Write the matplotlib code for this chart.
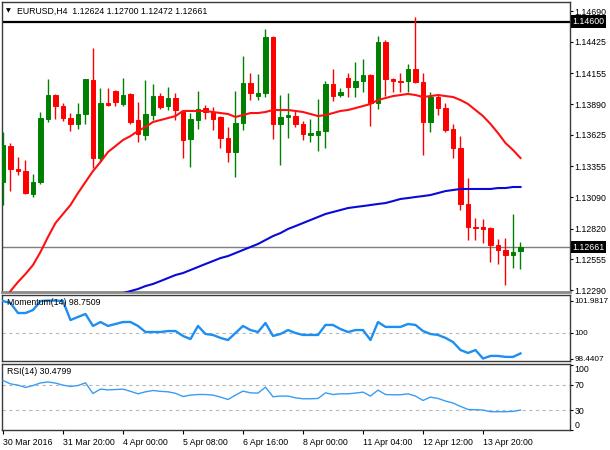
import matplotlib
matplotlib.use("Agg")
import matplotlib.pyplot as plt
import matplotlib.transforms as mtransforms
import numpy as np

plt.rcParams['font.family'] = ['Liberation Sans', 'DejaVu Sans']

# ---------------- data (EURUSD H4) ----------------
opens = [1.13220, 1.13529, 1.13332, 1.13314, 1.13117, 1.13220, 1.13762, 1.13968, 1.13873, 1.13770,
         1.13719, 1.13805, 1.14097, 1.13426, 1.13899, 1.14002, 1.13891, 1.13977, 1.13753, 1.13624,
         1.13796, 1.13959, 1.13873, 1.13942, 1.13831, 1.13590, 1.13753, 1.13856, 1.13822, 1.13779,
         1.13598, 1.13478, 1.13727, 1.14071, 1.13959, 1.13985, 1.14467, 1.13719, 1.13779, 1.13787,
         1.13719, 1.13624, 1.13624, 1.13659, 1.14063, 1.13968, 1.14114, 1.14037, 1.14088, 1.14140,
         1.13899, 1.14424, 1.14106, 1.14088, 1.14088, 1.14192, 1.14080, 1.13736, 1.13951, 1.13856,
         1.13676, 1.13512, 1.13031, 1.12833, 1.12833, 1.12824, 1.12678, 1.12635, 1.12592, 1.12624]
highs = [1.13650, 1.13555, 1.13435, 1.13409, 1.13289, 1.13822, 1.14106, 1.13977, 1.13899, 1.13813,
         1.13899, 1.14110, 1.14372, 1.14028, 1.14028, 1.14010, 1.14114, 1.13985, 1.13908, 1.14097,
         1.14063, 1.13985, 1.14037, 1.13985, 1.13839, 1.13813, 1.14002, 1.13882, 1.13865, 1.13787,
         1.13693, 1.14002, 1.14303, 1.14157, 1.14149, 1.14536, 1.14475, 1.13968, 1.13985, 1.13839,
         1.13744, 1.13762, 1.13934, 1.14088, 1.14192, 1.14028, 1.14157, 1.14252, 1.14278, 1.14149,
         1.14475, 1.14441, 1.14114, 1.14157, 1.14235, 1.14639, 1.14157, 1.13994, 1.13968, 1.13899,
         1.13719, 1.13615, 1.13254, 1.12910, 1.12902, 1.12833, 1.12730, 1.12738, 1.12945, 1.12700]
lows = [1.13022, 1.13142, 1.13280, 1.13120, 1.13091, 1.13203, 1.13736, 1.13762, 1.13744, 1.13659,
        1.13676, 1.13719, 1.13340, 1.13392, 1.13873, 1.13873, 1.13873, 1.13719, 1.13564, 1.13581,
        1.13753, 1.13848, 1.13839, 1.13753, 1.13426, 1.13349, 1.13676, 1.13762, 1.13667, 1.13512,
        1.13392, 1.13263, 1.13667, 1.13925, 1.13925, 1.13951, 1.13590, 1.13366, 1.13598, 1.13693,
        1.13581, 1.13564, 1.13486, 1.13512, 1.13916, 1.13951, 1.13951, 1.13951, 1.13994, 1.13701,
        1.13848, 1.13959, 1.13994, 1.13994, 1.13994, 1.14071, 1.13452, 1.13650, 1.13796, 1.13650,
        1.13426, 1.12979, 1.12721, 1.12721, 1.12695, 1.12532, 1.12515, 1.12334, 1.12480, 1.12472]
closes = [1.13538, 1.13332, 1.13314, 1.13125, 1.13220, 1.13770, 1.13968, 1.13873, 1.13770, 1.13719,
          1.13805, 1.14106, 1.13426, 1.13899, 1.13882, 1.13908, 1.13968, 1.13736, 1.13633, 1.13805,
          1.13959, 1.13865, 1.13942, 1.13839, 1.13581, 1.13762, 1.13848, 1.13822, 1.13762, 1.13598,
          1.13478, 1.13727, 1.14071, 1.13985, 1.13985, 1.14467, 1.13719, 1.13779, 1.13796, 1.13719,
          1.13633, 1.13641, 1.13659, 1.14063, 1.13959, 1.13994, 1.14037, 1.14088, 1.14140, 1.13899,
          1.14424, 1.14106, 1.14088, 1.14080, 1.14192, 1.14080, 1.13736, 1.13951, 1.13856, 1.13667,
          1.13512, 1.13031, 1.12833, 1.12824, 1.12816, 1.12678, 1.12635, 1.12592, 1.12618, 1.12661]

ma_fast = [1.12162, 1.12282, 1.12360, 1.12429, 1.12506, 1.12618, 1.12747, 1.12867, 1.12945, 1.13022,
           1.13125, 1.13220, 1.13314, 1.13392, 1.13478, 1.13529, 1.13581, 1.13615, 1.13659, 1.13693,
           1.13736, 1.13753, 1.13770, 1.13787, 1.13831, 1.13831, 1.13831, 1.13831, 1.13822, 1.13813,
           1.13805, 1.13779, 1.13796, 1.13813, 1.13813, 1.13822, 1.13839, 1.13839, 1.13839, 1.13831,
           1.13822, 1.13805, 1.13787, 1.13796, 1.13813, 1.13831, 1.13839, 1.13856, 1.13873, 1.13891,
           1.13925, 1.13942, 1.13959, 1.13968, 1.13977, 1.13968, 1.13951, 1.13959, 1.13968, 1.13959,
           1.13951, 1.13925, 1.13891, 1.13839, 1.13787, 1.13719, 1.13641, 1.13555, 1.13495, 1.13426]
ma_slow = [np.nan] * 15 + [
           1.12239, 1.12265, 1.12282, 1.12300, 1.12325, 1.12343, 1.12368, 1.12394, 1.12420, 1.12437,
           1.12463, 1.12489, 1.12515, 1.12540, 1.12566, 1.12583, 1.12609, 1.12635, 1.12661, 1.12687,
           1.12721, 1.12755, 1.12781, 1.12816, 1.12841, 1.12867, 1.12893, 1.12919, 1.12945, 1.12962,
           1.12979, 1.12996, 1.13005, 1.13013, 1.13022, 1.13031, 1.13039, 1.13056, 1.13074, 1.13082,
           1.13091, 1.13099, 1.13108, 1.13125, 1.13142, 1.13151, 1.13160, 1.13160, 1.13160, 1.13160,
           1.13160, 1.13168, 1.13168, 1.13177, 1.13177]

momentum = [101.95, 101.83, 101.22, 101.22, 101.40, 101.95, 101.98, 101.98, 101.95, 100.79,
            100.98, 101.16, 100.43, 100.67, 100.43, 100.55, 100.67, 100.67, 100.43, 100.06,
            100.06, 100.06, 100.12, 100.12, 99.82, 99.63, 100.43, 99.94, 99.88, 99.70,
            99.57, 100.00, 100.43, 100.18, 100.06, 100.61, 99.82, 99.94, 100.18, 100.00,
            99.88, 99.88, 99.88, 100.49, 100.49, 100.24, 100.06, 100.18, 100.18, 99.57,
            100.67, 100.37, 100.37, 100.37, 100.55, 100.49, 100.12, 99.94, 99.88, 99.70,
            99.45, 98.96, 98.78, 98.96, 98.44, 98.60, 98.60, 98.54, 98.54, 98.75]
rsi = [76.2, 71.1, 69.1, 65.5, 68.5, 72.5, 74.0, 72.3, 69.1, 67.0,
       68.5, 72.6, 56.2, 63.0, 61.8, 62.3, 62.9, 59.5, 55.7, 58.8,
       60.8, 59.5, 58.8, 56.5, 51.5, 53.7, 54.6, 54.6, 53.7, 50.6,
       46.9, 53.7, 59.8, 57.2, 56.8, 66.0, 51.1, 52.2, 52.2, 49.5,
       48.0, 48.0, 48.5, 57.2, 54.6, 55.7, 55.7, 56.8, 58.3, 52.2,
       61.4, 54.6, 54.2, 54.2, 55.7, 52.2, 45.4, 50.6, 48.5, 44.5,
       41.4, 36.2, 31.5, 31.1, 30.6, 28.0, 28.0, 28.0, 28.5, 30.48]

time_labels = ["30 Mar 2016", "31 Mar 20:00", "4 Apr 00:00", "5 Apr 08:00", "6 Apr 16:00",
               "8 Apr 00:00", "11 Apr 04:00", "12 Apr 12:00", "13 Apr 20:00"]
price_ticks = [1.14690, 1.14425, 1.14155, 1.13890, 1.13625, 1.13355, 1.13090, 1.12820, 1.12555, 1.12290]
level_line = 1.14600
bid = 1.12661
mom_ticks = [101.9817, 100, 98.4407]
rsi_ticks = [100, 70, 30, 0]

# ---------------- figure ----------------
W, H = 610, 450
fig = plt.figure(figsize=(W / 100, H / 100), dpi=100)
fig.patch.set_facecolor('white')


def rect(x0, y0, x1, y1):
    return [x0 / W, 1 - y1 / H, (x1 - x0) / W, (y1 - y0) / H]


ax1 = fig.add_axes(rect(2, 2, 570, 292))
ax2 = fig.add_axes(rect(2, 295, 570, 361), sharex=ax1)
ax3 = fig.add_axes(rect(2, 364, 570, 430), sharex=ax1)

FS = 6.3
spine_col = '#3a3a3a'
for ax in (ax1, ax2, ax3):
    ax.set_facecolor('white')
    for s in ax.spines.values():
        s.set_color(spine_col)
        s.set_linewidth(1.0)
    ax.yaxis.tick_right()
    ax.tick_params(axis='y', direction='out', length=2.0, width=0.8, pad=1.3,
                   labelsize=FS, colors='black')
    ax.tick_params(axis='x', bottom=False, labelbottom=False)
ax1.spines['bottom'].set_color('#8a8a8a')
ax1.spines['bottom'].set_linewidth(2.0)

n = len(opens)
x = np.arange(n)
o = np.array(opens); h = np.array(highs); l = np.array(lows); c = np.array(closes)
up = c >= o
cols = np.where(up, '#008000', '#ff0000')

ax1.axhline(level_line, color='black', lw=1.6, zorder=1)
ax1.axhline(bid, color='#7f7f7f', lw=1.0, zorder=1)

ax1.vlines(x, l, h, colors=cols, lw=1.0, zorder=3)
ax1.bar(x, np.abs(c - o), bottom=np.minimum(o, c), width=0.62, color=cols,
        edgecolor=cols, linewidth=0.7, zorder=4)
ax1.plot(x, ma_fast, color='#ff1010', lw=1.5, zorder=5)
ax1.plot(x, ma_slow, color='#0a0ad8', lw=1.5, zorder=5)

ax1.set_xlim(-0.13, 75.6)
ax1.set_ylim(1.12274, 1.14768)
ax1.set_yticks(price_ticks)
ax1.set_yticklabels(['%.5f' % v for v in price_ticks])

bt1 = mtransforms.blended_transform_factory(ax1.transAxes, ax1.transData)
for val in (level_line, bid):
    ax1.text(1.004, val, '%.5f' % val, transform=bt1, ha='left', va='center',
             fontsize=FS, color='white', clip_on=False, zorder=10,
             bbox=dict(facecolor='black', edgecolor='none', pad=1.2))

fig.text(8.5 / W, 1 - 10.5 / H, '\u25BC', fontsize=4.5, family='DejaVu Sans',
         ha='center', va='center')
fig.text(17 / W, 1 - 11 / H, 'EURUSD,H4  1.12624 1.12700 1.12472 1.12661',
         fontsize=FS, ha='left', va='center')

# Momentum panel
ax2.plot(x, momentum, color='#1e8ff0', lw=1.7, zorder=3)
ax2.axhline(100, color='#b8b8b8', lw=0.8, ls=(0, (3, 3)), zorder=1)
ax2.set_ylim(98.29, 102.32)
ax2.set_yticks(mom_ticks)
ax2.set_yticklabels(['101.9817', '100', '98.4407'])
ax2.tick_params(axis='y', labelsize=5.9)
ax2.text(0.009, 0.88, 'Momentum(14) 98.7509', transform=ax2.transAxes,
         fontsize=FS, ha='left', va='center', zorder=6)

# RSI panel
ax3.plot(x, rsi, color='#3a9cf5', lw=1.0, zorder=3)
for lv in (70, 30):
    ax3.axhline(lv, color='#b8b8b8', lw=0.8, ls=(0, (3, 3)), zorder=1)
ax3.set_ylim(-0.3, 101.8)
ax3.set_yticks(rsi_ticks)
lbls = ax3.set_yticklabels([str(v) for v in rsi_ticks])
lbls[0].set_va('top')
lbls[-1].set_va('bottom')
ax3.text(0.009, 0.88, 'RSI(14) 30.4799', transform=ax3.transAxes,
         fontsize=FS, ha='left', va='center', zorder=6)

ax3.set_xticks(np.arange(0, 8 * len(time_labels), 8))
ax3.set_xticklabels(time_labels, ha='left')
ax3.tick_params(axis='x', bottom=True, labelbottom=True, direction='out',
                length=3, width=0.8, pad=2.5, labelsize=FS)

fig.savefig('out.png', dpi=100, facecolor='white')
